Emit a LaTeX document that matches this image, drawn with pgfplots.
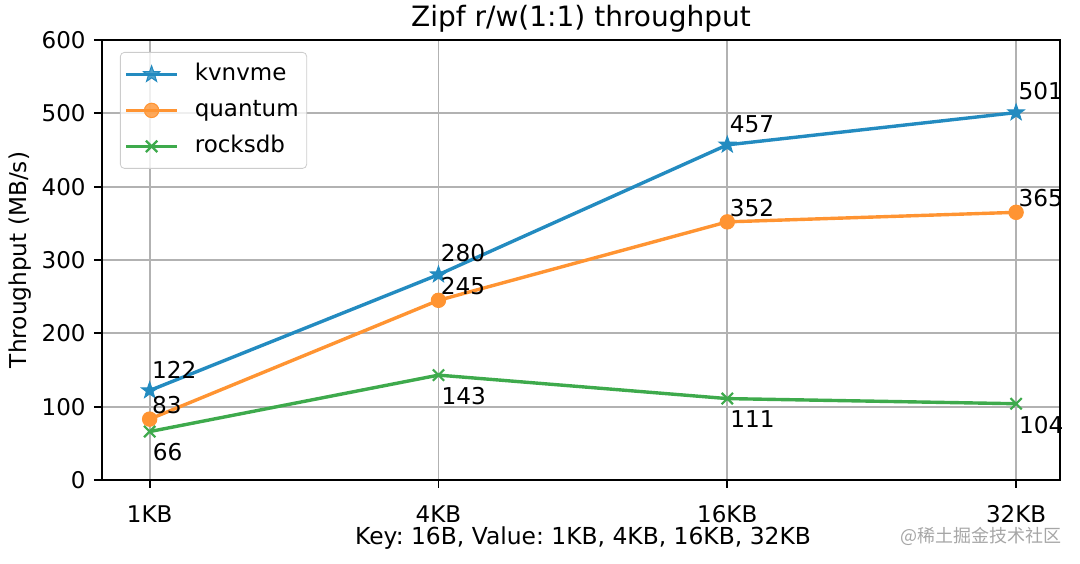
\documentclass[border=0pt]{standalone}
\usepackage{fontspec}
\setmainfont{DejaVu Sans}
\newfontfamily\cjk{Noto Sans CJK SC}
\usepackage{pgfplots}
\pgfplotsset{compat=1.18}
\frenchspacing
\definecolor{cblue}{RGB}{35,139,192}
\definecolor{corange}{RGB}{255,148,50}
\definecolor{cgreen}{RGB}{62,170,76}
\pgfdeclareplotmark{fstar}{%
  \pgfpathmoveto{\pgfpointpolar{90}{\pgfplotmarksize}}%
  \pgfpathlineto{\pgfpointpolar{126}{0.4\pgfplotmarksize}}%
  \pgfpathlineto{\pgfpointpolar{162}{\pgfplotmarksize}}%
  \pgfpathlineto{\pgfpointpolar{198}{0.4\pgfplotmarksize}}%
  \pgfpathlineto{\pgfpointpolar{234}{\pgfplotmarksize}}%
  \pgfpathlineto{\pgfpointpolar{270}{0.4\pgfplotmarksize}}%
  \pgfpathlineto{\pgfpointpolar{306}{\pgfplotmarksize}}%
  \pgfpathlineto{\pgfpointpolar{342}{0.4\pgfplotmarksize}}%
  \pgfpathlineto{\pgfpointpolar{18}{\pgfplotmarksize}}%
  \pgfpathlineto{\pgfpointpolar{54}{0.4\pgfplotmarksize}}%
  \pgfpathclose
  \pgfusepathqfillstroke}
\begin{document}
\begin{tikzpicture}
\begin{axis}[
  scale only axis, width=479pt, height=220pt,
  xmin=-0.165, xmax=3.152, ymin=0, ymax=600,
  xtick={0,1,2,3}, xticklabels={1KB,4KB,16KB,32KB},
  ytick={0,100,200,300,400,500,600},
  xtick pos=bottom, ytick pos=left,
  grid=major, major grid style={color=black!30, line width=0.9pt},
  axis line style={line width=0.9pt},
  tick align=outside, major tick length=4pt,
  tick style={black, line width=0.9pt},
  tick label style={font=\fontsize{11.5}{13}\selectfont},
  /pgf/number format/assume math mode=true,
  xticklabel style={anchor=base, inner sep=0pt, yshift=-17.5pt},
  yticklabel style={anchor=east, inner sep=0pt, xshift=-4pt},
  title={Zipf r/w(1:1) throughput},
  title style={font=\fontsize{14}{16}\selectfont, at={(0.5,1)}, anchor=base, inner sep=0pt, yshift=0.5pt},
  xlabel={Key: 16B, Value: 1KB, 4KB, 16KB, 32KB},
  xlabel style={font=\fontsize{11.7}{13}\selectfont, at={(0.5,0)}, anchor=base, inner sep=0pt, yshift=-32.5pt, xshift=1pt},
  ylabel={Throughput (MB/s)},
  ylabel style={font=\fontsize{11.6}{13}\selectfont, at={([xshift=-37.5pt]axis description cs:0,0.5)}, anchor=base, inner sep=0pt},
  clip=false,
  legend cell align=left,
  legend style={at={(0,1)}, anchor=north west, xshift=9pt, yshift=-6pt,
    draw=black!20, rounded corners=2pt, fill=white, fill opacity=0.8, text opacity=1,
    font=\fontsize{11.5}{13}\selectfont, inner xsep=2pt, inner ysep=4.5pt, row sep=5pt,
    nodes={text height=8.5pt, text depth=2.5pt, inner ysep=1pt},
    /tikz/every odd column/.append style={column sep=6pt}},
  legend image code/.code={\draw[mark repeat=2, mark phase=2] plot coordinates {(0pt,0pt) (12.75pt,0pt) (25.5pt,0pt)};},
  every axis plot/.append style={line width=1.7pt},
  nodes near coords,
  every node near coord/.append style={font=\fontsize{11.6}{13}\selectfont, text=black, inner sep=0pt, xshift=1pt},
]
\addplot[color=cblue, mark=fstar, mark size=4.3pt, mark options={solid, fill=cblue, line width=0.5pt},
  every node near coord/.append style={anchor=south west, yshift=6pt}]
  coordinates {(0,122) (1,280) (2,457) (3,501)};
\addlegendentry{kvnvme}
\addplot[color=corange, mark=*, mark size=3.6pt, mark options={solid, fill=corange, line width=0.5pt},
  every node near coord/.append style={anchor=south west, yshift=2.5pt}]
  coordinates {(0,83) (1,245) (2,352) (3,365)};
\addlegendentry{quantum}
\addplot[color=cgreen, mark=x, mark size=4pt, mark options={solid, line width=1.1pt},
  every node near coord/.append style={anchor=north west, yshift=-5.5pt}]
  coordinates {(0,66) (1,143) (2,111) (3,104)};
\addlegendentry{rocksdb}
\node[anchor=base east, inner sep=0pt, text=black!35, font=\cjk\fontsize{9}{10}\selectfont] at ([xshift=1pt, yshift=-31.5pt]rel axis cs:1,0) {@稀土掘金技术社区};
\end{axis}
\pgfresetboundingbox
\path ([xshift=-51pt,yshift=-42pt]current axis.south west) rectangle ([xshift=10pt,yshift=20pt]current axis.north east);
\end{tikzpicture}
\end{document}
